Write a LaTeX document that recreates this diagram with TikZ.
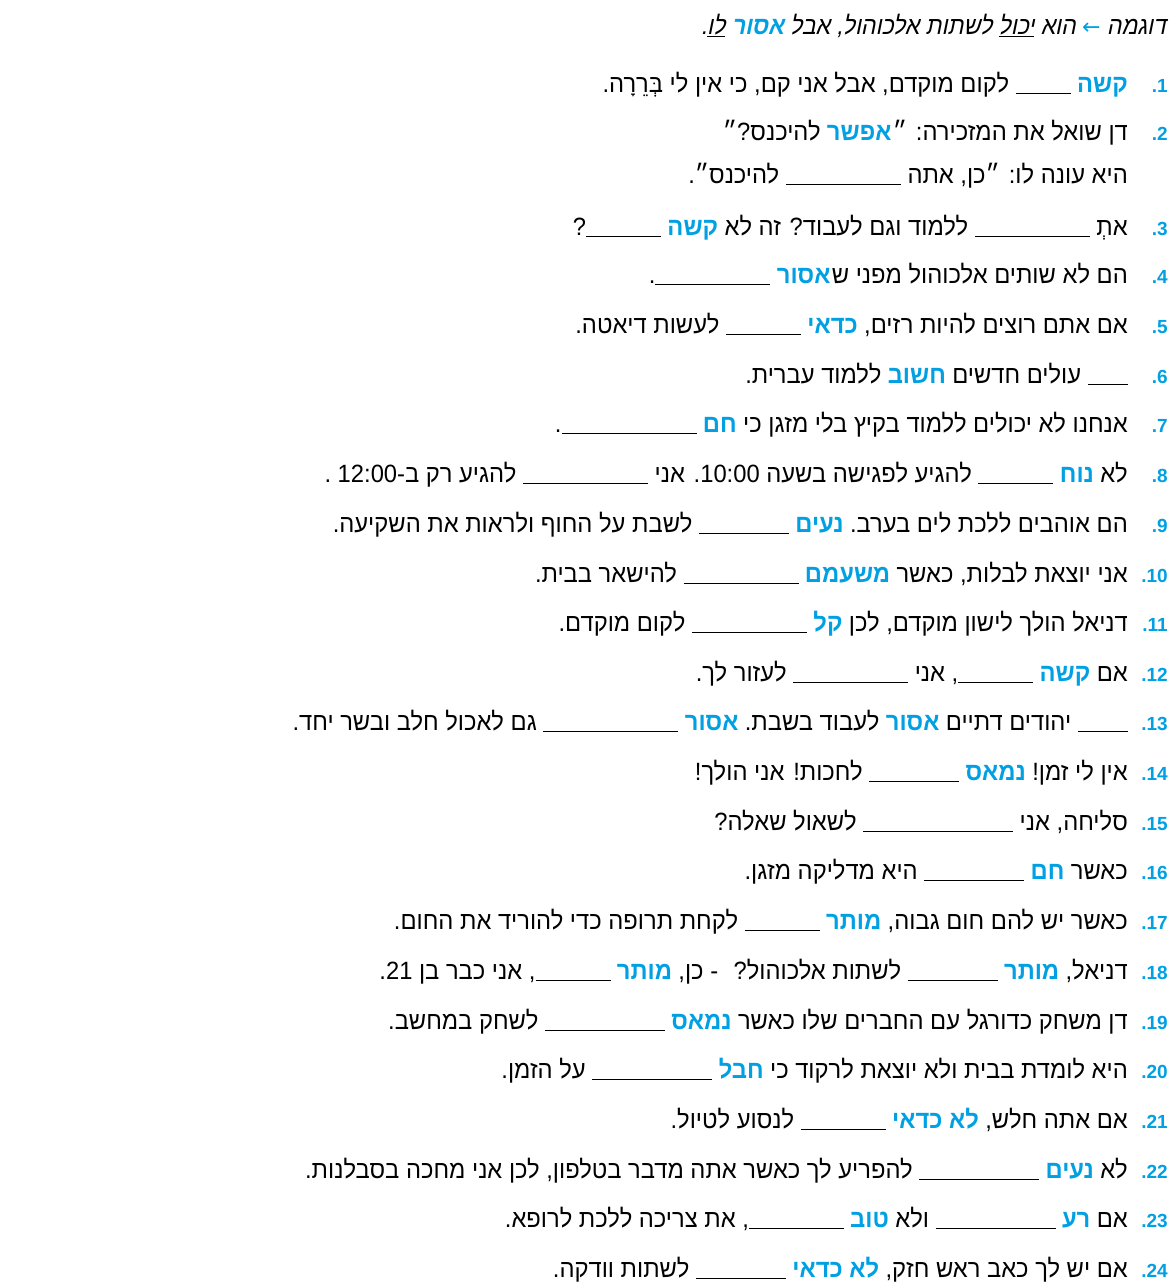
\documentclass[tikz,border=0pt]{standalone}
\usepackage{fontspec}
\setmainfont{Liberation Sans}
\newfontfamily\heb[Script=Hebrew,FakeStretch=0.95]{Liberation Sans}
\newfontfamily\hebb[Script=Hebrew,FakeStretch=0.95]{Liberation Sans Bold}
\newfontfamily\hand[Script=Hebrew,FakeSlant=0.2,FakeStretch=0.92]{Liberation Sans}
\newfontfamily\handb[Script=Hebrew,FakeSlant=0.2,FakeStretch=0.92]{Liberation Sans Bold}
\newfontfamily\sym{DejaVu Sans}
\TeXXeTstate=1
\definecolor{qblue}{RGB}{0,160,227}
\newcommand{\R}[1]{\beginR #1\endR}
\newcommand{\blank}[1]{\rule[-2pt]{#1pt}{0.7pt}}
\begin{document}
\begin{tikzpicture}[x=1pt,y=1pt,
    line/.style={anchor=base east, inner sep=0pt, font=\heb\fontsize{25}{28}\selectfont},
    kwd/.style={line, text=qblue, font=\hebb\fontsize{25}{28}\selectfont},
    next/.style={xshift=-6pt},
    tight/.style={xshift=-1pt},
    hw/.style={line, font=\hand\fontsize{25}{28}\selectfont},
    num/.style={anchor=base east, inner sep=0pt, text=qblue, font=\bfseries\fontsize{19}{22}\selectfont}]
    \useasboundingbox (0,0) rectangle (1169,-1286);
    % example line
    \node[hw] (ex1) at (1166,-34) {\R{דוגמה}};
    \node[hw, next, text=qblue, font=\sym\fontsize{22}{24}\selectfont] (exarr) at (ex1.base west) {←};
    \node[hw, next] (ex2) at (exarr.base west) {\R{הוא \underline{יכול} לשתות אלכוהול, אבל}};
    \node[hw, next, text=qblue, font=\handb\fontsize{25}{28}\selectfont] (ex3) at (ex2.base west) {\R{אסור}};
    \node[hw, next] (ex4) at (ex3.base west) {\R{\underline{לו}.}};
    % numbers
    \foreach \i/\y in {1/92,2/140,3/235,4/283,5/333,6/383,7/432,8/482,9/532,10/582,11/631,12/681,13/730,14/780,15/830,16/879,17/929,18/979,19/1029,20/1078,21/1128,22/1178,23/1227,24/1277}
        \node[num] (n\i) at (1168,-\y) {.\i};
    % sentences
    \node[kwd] (l1a) at (1128,-92) {\R{קשה}};
    \node[line, next] (l1b) at (l1a.base west) {\R{\blank{55} לקום מוקדם, אבל אני קם, כי אין לי בְּרֵרָה.}};

    \node[line] (l2a) at (1128,-140) {\R{דן שואל את המזכירה: ״}};
    \node[kwd, tight] (l2b) at (l2a.base west) {\R{אפשר}};
    \node[line, next] (l2c) at (l2b.base west) {\R{להיכנס?״}};
    \node[line] (l2d) at (1128,-183) {\R{היא עונה לו: ״כן, אתה \blank{115} להיכנס״.}};

    \node[line] (l3a) at (1128,-235) {\R{אתְ \blank{115} ללמוד וגם לעבוד? זה לא}};
    \node[kwd, next] (l3b) at (l3a.base west) {\R{קשה}};
    \node[line, next] (l3c) at (l3b.base west) {\R{\blank{75}?}};

    \node[line] (l4a) at (1128,-283) {\R{הם לא שותים אלכוהול מפני ש}};
    \node[kwd, tight] (l4b) at (l4a.base west) {\R{אסור}};
    \node[line, next] (l4c) at (l4b.base west) {\R{\blank{115}.}};

    \node[line] (l5a) at (1128,-333) {\R{אם אתם רוצים להיות רזים,}};
    \node[kwd, next] (l5b) at (l5a.base west) {\R{כדאי}};
    \node[line, next] (l5c) at (l5b.base west) {\R{\blank{75} לעשות דיאטה.}};

    \node[line] (l6a) at (1128,-383) {\R{\blank{40} עולים חדשים}};
    \node[kwd, next] (l6b) at (l6a.base west) {\R{חשוב}};
    \node[line, next] (l6c) at (l6b.base west) {\R{ללמוד עברית.}};

    \node[line] (l7a) at (1128,-432) {\R{אנחנו לא יכולים ללמוד בקיץ בלי מזגן כי}};
    \node[kwd, next] (l7b) at (l7a.base west) {\R{חם}};
    \node[line, next] (l7c) at (l7b.base west) {\R{\blank{135}.}};

    \node[line] (l8a) at (1128,-482) {\R{לא}};
    \node[kwd, next] (l8b) at (l8a.base west) {\R{נוח}};
    \node[line, next] (l8c) at (l8b.base west) {\R{\blank{75} להגיע לפגישה בשעה \beginL10:00\endL. אני \blank{125} להגיע רק ב-\beginL12:00\endL{} .}};

    \node[line] (l9a) at (1128,-532) {\R{הם אוהבים ללכת לים בערב.}};
    \node[kwd, next] (l9b) at (l9a.base west) {\R{נעים}};
    \node[line, next] (l9c) at (l9b.base west) {\R{\blank{90} לשבת על החוף ולראות את השקיעה.}};

    \node[line] (l10a) at (1128,-582) {\R{אני יוצאת לבלות, כאשר}};
    \node[kwd, next] (l10b) at (l10a.base west) {\R{משעמם}};
    \node[line, next] (l10c) at (l10b.base west) {\R{\blank{115} להישאר בבית.}};

    \node[line] (l11a) at (1128,-631) {\R{דניאל הולך לישון מוקדם, לכן}};
    \node[kwd, next] (l11b) at (l11a.base west) {\R{קל}};
    \node[line, next] (l11c) at (l11b.base west) {\R{\blank{115} לקום מוקדם.}};

    \node[line] (l12a) at (1128,-681) {\R{אם}};
    \node[kwd, next] (l12b) at (l12a.base west) {\R{קשה}};
    \node[line, next] (l12c) at (l12b.base west) {\R{\blank{75}, אני \blank{115} לעזור לך.}};

    \node[line] (l13a) at (1128,-730) {\R{\blank{50} יהודים דתיים}};
    \node[kwd, next] (l13b) at (l13a.base west) {\R{אסור}};
    \node[line, next] (l13c) at (l13b.base west) {\R{לעבוד בשבת.}};
    \node[kwd, next] (l13d) at (l13c.base west) {\R{אסור}};
    \node[line, next] (l13e) at (l13d.base west) {\R{\blank{135} גם לאכול חלב ובשר יחד.}};

    \node[line] (l14a) at (1128,-780) {\R{אין לי זמן!}};
    \node[kwd, next] (l14b) at (l14a.base west) {\R{נמאס}};
    \node[line, next] (l14c) at (l14b.base west) {\R{\blank{90} לחכות! אני הולך!}};

    \node[line] (l15a) at (1128,-830) {\R{סליחה, אני \blank{150} לשאול שאלה?}};

    \node[line] (l16a) at (1128,-879) {\R{כאשר}};
    \node[kwd, next] (l16b) at (l16a.base west) {\R{חם}};
    \node[line, next] (l16c) at (l16b.base west) {\R{\blank{100} היא מדליקה מזגן.}};

    \node[line] (l17a) at (1128,-929) {\R{כאשר יש להם חום גבוה,}};
    \node[kwd, next] (l17b) at (l17a.base west) {\R{מותר}};
    \node[line, next] (l17c) at (l17b.base west) {\R{\blank{75} לקחת תרופה כדי להוריד את החום.}};

    \node[line] (l18a) at (1128,-979) {\R{דניאל,}};
    \node[kwd, next] (l18b) at (l18a.base west) {\R{מותר}};
    \node[line, next] (l18c) at (l18b.base west) {\R{\blank{90} לשתות אלכוהול? \ - כן,}};
    \node[kwd, next] (l18d) at (l18c.base west) {\R{מותר}};
    \node[line, next] (l18e) at (l18d.base west) {\R{\blank{75}, אני כבר בן \beginL21\endL.}};

    \node[line] (l19a) at (1128,-1029) {\R{דן משחק כדורגל עם החברים שלו כאשר}};
    \node[kwd, next] (l19b) at (l19a.base west) {\R{נמאס}};
    \node[line, next] (l19c) at (l19b.base west) {\R{\blank{120} לשחק במחשב.}};

    \node[line] (l20a) at (1128,-1078) {\R{היא לומדת בבית ולא יוצאת לרקוד כי}};
    \node[kwd, next] (l20b) at (l20a.base west) {\R{חבל}};
    \node[line, next] (l20c) at (l20b.base west) {\R{\blank{120} על הזמן.}};

    \node[line] (l21a) at (1128,-1128) {\R{אם אתה חלש,}};
    \node[kwd, next] (l21b) at (l21a.base west) {\R{לא כדאי}};
    \node[line, next] (l21c) at (l21b.base west) {\R{\blank{85} לנסוע לטיול.}};

    \node[line] (l22a) at (1128,-1178) {\R{לא}};
    \node[kwd, next] (l22b) at (l22a.base west) {\R{נעים}};
    \node[line, next] (l22c) at (l22b.base west) {\R{\blank{120} להפריע לך כאשר אתה מדבר בטלפון, לכן אני מחכה בסבלנות.}};

    \node[line] (l23a) at (1128,-1227) {\R{אם}};
    \node[kwd, next] (l23b) at (l23a.base west) {\R{רע}};
    \node[line, next] (l23c) at (l23b.base west) {\R{\blank{120} ולא}};
    \node[kwd, next] (l23d) at (l23c.base west) {\R{טוב}};
    \node[line, next] (l23e) at (l23d.base west) {\R{\blank{95}, את צריכה ללכת לרופא.}};

    \node[line] (l24a) at (1128,-1277) {\R{אם יש לך כאב ראש חזק,}};
    \node[kwd, next] (l24b) at (l24a.base west) {\R{לא כדאי}};
    \node[line, next] (l24c) at (l24b.base west) {\R{\blank{90} לשתות וודקה.}};
\end{tikzpicture}
\end{document}
